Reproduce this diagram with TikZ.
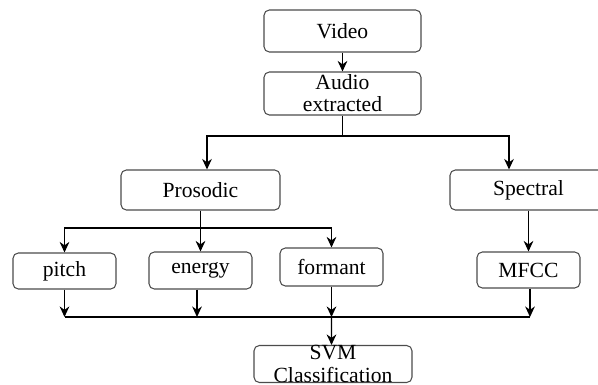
\documentclass[tikz,border=0pt]{standalone}
\usepackage{fontspec}
\setmainfont{Liberation Serif}
\usepackage{tikz}
\usetikzlibrary{arrows.meta, positioning}

\begin{document}
\begin{tikzpicture}[x=0.02cm, y=-0.02cm,
  box/.style={draw=black!70, fill=white, rounded corners=3pt, line width=0.6pt,
              inner sep=0pt, align=center, font=\fontsize{12.3}{12.6}\selectfont},
  arr/.style={-{Stealth[length=6pt, width=5.5pt]}, line width=0.7pt},
  ln/.style={line width=0.7pt}
]
\useasboundingbox (0,0) rectangle (598,385);
\clip (0,0) rectangle (598,385);

% top chain
\node[box, minimum width=3.14cm, minimum height=0.84cm] (video) at (342.5, 31) {Video};
\node[box, minimum width=3.14cm, minimum height=0.86cm] (audio) at (342.5, 93.5) {Audio\\extracted};

% feature groups
\node[box, minimum width=3.18cm, minimum height=0.8cm] (prosodic) at (200.5, 190) {Prosodic};
\node[box, minimum width=3.14cm, minimum height=0.8cm] (spectral) at (528.5, 190) {Spectral};

% features
\node[box, minimum width=2.06cm, minimum height=0.72cm] (pitch)   at (64.5, 271)  {pitch};
\node[box, minimum width=2.06cm, minimum height=0.74cm] (energy)  at (200.5, 270.5) {energy};
\node[box, minimum width=2.06cm, minimum height=0.76cm] (formant) at (331.5, 267) {formant};
\node[box, minimum width=2.06cm, minimum height=0.72cm] (mfcc)    at (528.5, 270) {MFCC};

% classifier
\node[box, minimum width=3.16cm, minimum height=0.74cm] (svm) at (333, 364) {SVM\\Classification};

% junctions
\coordinate (split) at (342.5, 136);
\coordinate (psplit) at (200.5, 228);
\coordinate (merge) at (331.5, 317);

% Arrows
\draw[arr] (video.south) -- (audio.north);
\draw[ln] (audio.south) -- (split);
\draw[arr] (split) -| ([xshift=0.13cm]prosodic.north);
\draw[arr] (split) -| ([xshift=-0.39cm]spectral.north);

\draw[arr] (prosodic.south) -- (energy.north);
\draw[arr] (psplit) -| (pitch.north);
\draw[arr] (psplit) -| (formant.north);

\draw[arr] (spectral.south) -- (mfcc.north);

\draw[arr] (pitch.south) -- (pitch.south |- merge);
\draw[arr] ([xshift=-0.07cm]energy.south) -- ([xshift=-0.07cm]energy.south |- merge);
\draw[arr] (formant.south) -- (merge);
\draw[arr] ([xshift=0.03cm]mfcc.south) -- ([xshift=0.03cm]mfcc.south |- merge);
\draw[ln] (pitch.south |- merge) -- ([xshift=0.03cm]mfcc.south |- merge);
\draw[arr] (merge) -- ([xshift=-0.03cm]svm.north);

\end{tikzpicture}
\end{document}
